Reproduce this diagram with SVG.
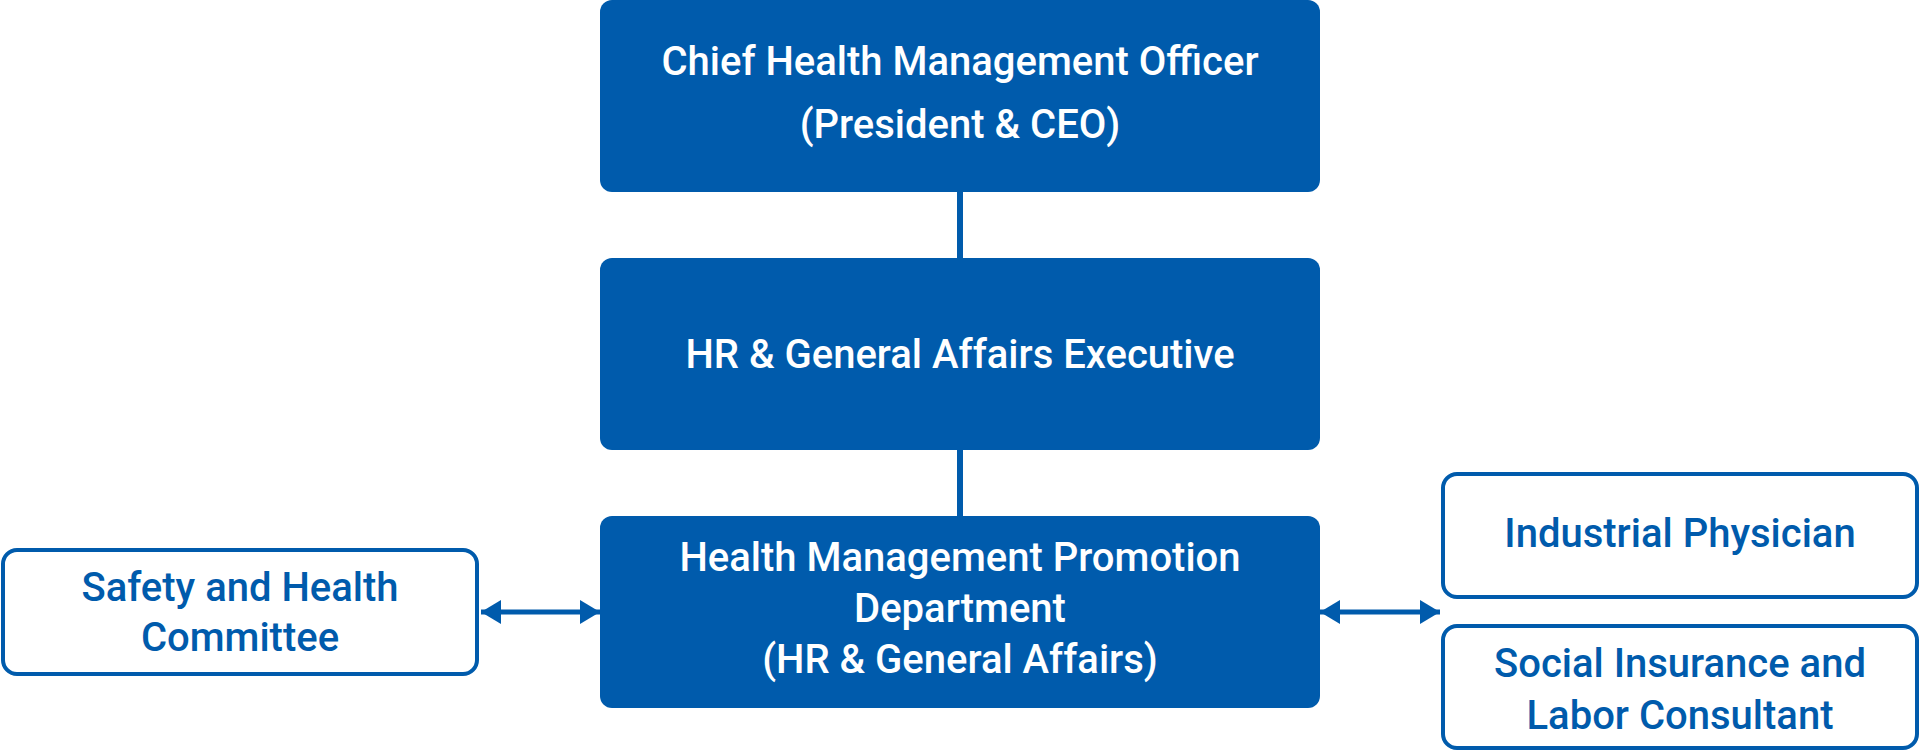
<svg xmlns="http://www.w3.org/2000/svg" width="1920" height="752" viewBox="0 0 1920 752">
<style>
.solid{fill:#005bac}
.outline{fill:#ffffff;stroke:#005bac;stroke-width:4}
.t{font-family:Roboto,"Liberation Sans",sans-serif;font-weight:500;font-size:40px;text-anchor:middle}
.w{fill:#ffffff}
.b{fill:#005bac}
.conn{stroke:#005bac;fill:none}
</style>
<defs>
<marker id="ah" viewBox="0 0 20 24" refX="20" refY="12" markerWidth="20" markerHeight="24" markerUnits="userSpaceOnUse" orient="auto-start-reverse">
<path d="M0,0 L20,12 L0,24 Z" fill="#005bac"/>
</marker>
</defs>
<rect width="1920" height="752" fill="#ffffff"/>
<g id="connectors">
<line class="conn" x1="960" y1="192" x2="960" y2="258" stroke-width="6"/>
<line class="conn" x1="960" y1="450" x2="960" y2="516" stroke-width="6"/>
<line class="conn" x1="481" y1="612" x2="600" y2="612" stroke-width="5" marker-start="url(#ah)" marker-end="url(#ah)"/>
<line class="conn" x1="1320" y1="612" x2="1440" y2="612" stroke-width="5" marker-start="url(#ah)" marker-end="url(#ah)"/>
</g>
<g id="chief">
<rect class="solid" x="600" y="0" width="720" height="192" rx="12"/>
<text class="t w" x="960" y="75">Chief Health Management Officer</text>
<text class="t w" x="960" y="138">(President &amp; CEO)</text>
</g>
<g id="hr-exec">
<rect class="solid" x="600" y="258" width="720" height="192" rx="12"/>
<text class="t w" x="960" y="368">HR &amp; General Affairs Executive</text>
</g>
<g id="promotion">
<rect class="solid" x="600" y="516" width="720" height="192" rx="12"/>
<text class="t w" x="960" y="571">Health Management Promotion</text>
<text class="t w" x="960" y="622">Department</text>
<text class="t w" x="960" y="673">(HR &amp; General Affairs)</text>
</g>
<g id="committee">
<rect class="outline" x="3" y="550" width="474" height="124" rx="14"/>
<text class="t b" x="240" y="601">Safety and Health</text>
<text class="t b" x="240" y="651">Committee</text>
</g>
<g id="physician">
<rect class="outline" x="1443" y="474" width="474" height="123" rx="14"/>
<text class="t b" x="1680" y="547">Industrial Physician</text>
</g>
<g id="consultant">
<rect class="outline" x="1443" y="626" width="474" height="122" rx="14"/>
<text class="t b" x="1680" y="677">Social Insurance and</text>
<text class="t b" x="1680" y="729">Labor Consultant</text>
</g>
</svg>
